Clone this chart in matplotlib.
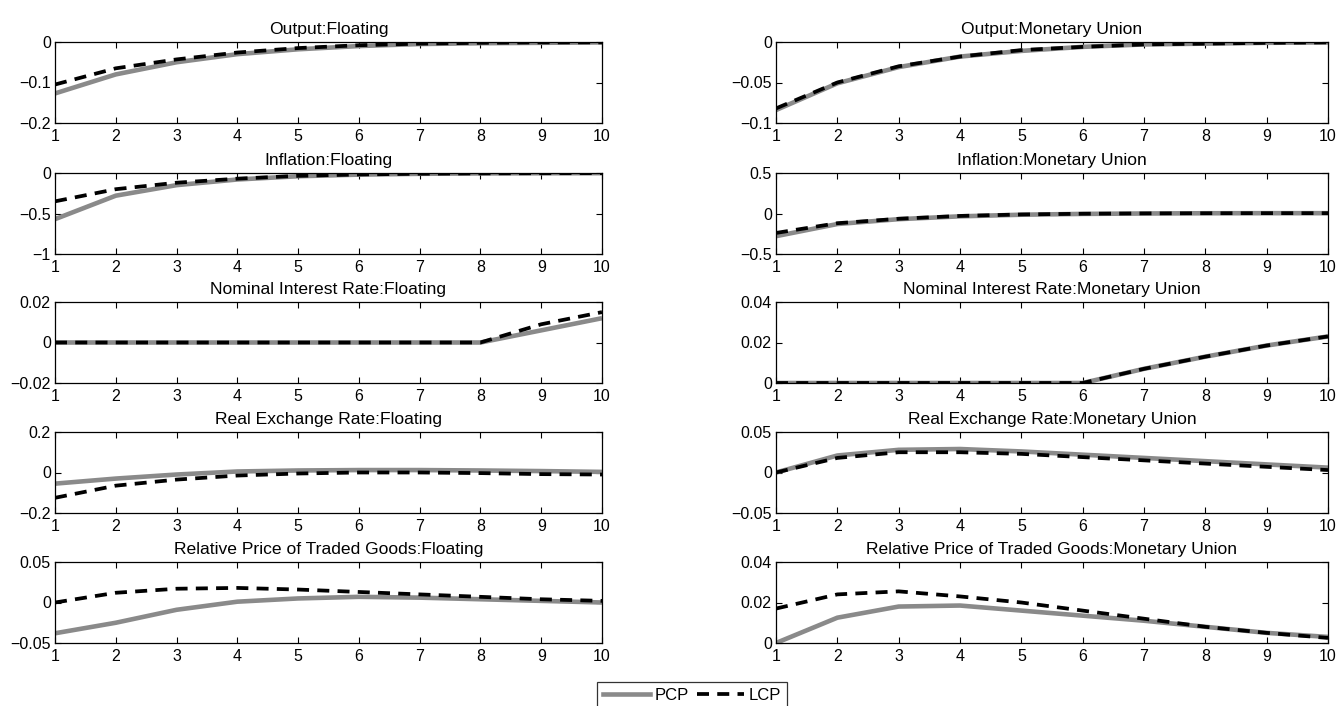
import matplotlib
matplotlib.use("Agg")
import matplotlib.pyplot as plt
from matplotlib.lines import Line2D

plt.rcParams['font.family'] = ['Liberation Sans', 'DejaVu Sans']

periods = [1, 2, 3, 4, 5, 6, 7, 8, 9, 10]

titles = [
    "Output:Floating", "Output:Monetary Union",
    "Inflation:Floating", "Inflation:Monetary Union",
    "Nominal Interest Rate:Floating", "Nominal Interest Rate:Monetary Union",
    "Real Exchange Rate:Floating", "Real Exchange Rate:Monetary Union",
    "Relative Price of Traded Goods:Floating", "Relative Price of Traded Goods:Monetary Union",
]

output_float_pcp = [-0.127, -0.080, -0.050, -0.030, -0.018, -0.010, -0.005, -0.003, -0.002, -0.001]
output_float_lcp = [-0.105, -0.065, -0.043, -0.026, -0.015, -0.008, -0.004, -0.002, -0.001, -0.001]
output_mu_pcp = [-0.084, -0.051, -0.031, -0.018, -0.011, -0.006, -0.003, -0.002, -0.001, -0.0005]
output_mu_lcp = [-0.082, -0.050, -0.030, -0.018, -0.010, -0.006, -0.003, -0.002, -0.001, -0.0005]

infl_float_pcp = [-0.57, -0.28, -0.15, -0.08, -0.04, -0.02, -0.01, -0.005, -0.003, -0.002]
infl_float_lcp = [-0.35, -0.20, -0.12, -0.07, -0.035, -0.018, -0.009, -0.005, -0.003, -0.002]
infl_mu_pcp = [-0.28, -0.13, -0.07, -0.035, -0.015, -0.005, 0.0, 0.003, 0.004, 0.004]
infl_mu_lcp = [-0.24, -0.12, -0.065, -0.030, -0.012, -0.003, 0.001, 0.003, 0.004, 0.004]

rate_float_pcp = [0, 0, 0, 0, 0, 0, 0, 0, 0.006, 0.012]
rate_float_lcp = [0, 0, 0, 0, 0, 0, 0, 0, 0.009, 0.015]
rate_mu_pcp = [0, 0, 0, 0, 0, 0, 0.007, 0.013, 0.0185, 0.023]
rate_mu_lcp = [0, 0, 0, 0, 0, 0, 0.007, 0.013, 0.0185, 0.023]

rer_float_pcp = [-0.055, -0.030, -0.010, 0.005, 0.010, 0.012, 0.012, 0.010, 0.007, 0.003]
rer_float_lcp = [-0.125, -0.065, -0.035, -0.015, -0.005, 0.0, 0.0, -0.003, -0.008, -0.010]
rer_mu_pcp = [0.0, 0.021, 0.028, 0.029, 0.026, 0.022, 0.018, 0.014, 0.010, 0.006]
rer_mu_lcp = [0.0, 0.018, 0.025, 0.025, 0.023, 0.019, 0.015, 0.011, 0.007, 0.003]

rptg_float_pcp = [-0.038, -0.025, -0.009, 0.001, 0.005, 0.007, 0.006, 0.004, 0.002, 0.0]
rptg_float_lcp = [0.0, 0.012, 0.017, 0.018, 0.016, 0.013, 0.010, 0.007, 0.004, 0.002]
rptg_mu_pcp = [0.0, 0.0125, 0.018, 0.0185, 0.016, 0.0135, 0.011, 0.008, 0.005, 0.003]
rptg_mu_lcp = [0.017, 0.024, 0.0255, 0.023, 0.020, 0.016, 0.012, 0.008, 0.005, 0.0025]

pcp_series = [output_float_pcp, output_mu_pcp, infl_float_pcp, infl_mu_pcp,
              rate_float_pcp, rate_mu_pcp, rer_float_pcp, rer_mu_pcp,
              rptg_float_pcp, rptg_mu_pcp]
lcp_series = [output_float_lcp, output_mu_lcp, infl_float_lcp, infl_mu_lcp,
              rate_float_lcp, rate_mu_lcp, rer_float_lcp, rer_mu_lcp,
              rptg_float_lcp, rptg_mu_lcp]

ylims = [(-0.2, 0), (-0.1, 0), (-1, 0), (-0.5, 0.5), (-0.02, 0.02), (0, 0.04),
         (-0.2, 0.2), (-0.05, 0.05), (-0.05, 0.05), (0, 0.04)]
yticks = [[-0.2, -0.1, 0], [-0.1, -0.05, 0], [-1, -0.5, 0], [-0.5, 0, 0.5],
          [-0.02, 0, 0.02], [0, 0.02, 0.04], [-0.2, 0, 0.2], [-0.05, 0, 0.05],
          [-0.05, 0, 0.05], [0, 0.02, 0.04]]
yticklabels = [["\u22120.2", "\u22120.1", "0"], ["\u22120.1", "\u22120.05", "0"],
               ["\u22121", "\u22120.5", "0"], ["\u22120.5", "0", "0.5"],
               ["\u22120.02", "0", "0.02"], ["0", "0.02", "0.04"],
               ["\u22120.2", "0", "0.2"], ["\u22120.05", "0", "0.05"],
               ["\u22120.05", "0", "0.05"], ["0", "0.02", "0.04"]]

fig = plt.figure(figsize=(13.37, 7.06), dpi=100)
W, H = 1337, 706
lefts = [55, 776]
widths = [547, 552]
tops = [42, 173, 302, 432, 562]
ah = 81

pcp_color = "#8a8a8a"
for i in range(10):
    r, c = divmod(i, 2)
    ax = fig.add_axes([lefts[c] / W, 1 - (tops[r] + ah) / H, widths[c] / W, ah / H])
    ax.plot(periods, pcp_series[i], color=pcp_color, lw=3.3, solid_capstyle='butt')
    ax.plot(periods, lcp_series[i], color='black', lw=2.7, dashes=(3.2, 2.2))
    ax.set_xlim(1, 10)
    ax.set_ylim(*ylims[i])
    ax.set_xticks(periods)
    ax.set_yticks(yticks[i])
    ax.set_yticklabels(yticklabels[i])
    ax.tick_params(direction='in', top=True, right=True, labelsize=11.5, length=4,
                   width=0.8, pad=3)
    ax.tick_params(axis='x', pad=4)
    for sp in ax.spines.values():
        sp.set_linewidth(0.9)
    ax.set_title(titles[i], fontsize=12.6, pad=6)

handles = [Line2D([], [], color=pcp_color, lw=3.3),
           Line2D([], [], color='black', lw=2.7, dashes=(3.2, 2.2))]
leg = fig.legend(handles, ["PCP", "LCP"], loc='upper left',
                 bbox_to_anchor=(597 / W, 1 - 682 / H), ncol=2, fontsize=12,
                 frameon=True, fancybox=False, edgecolor='black',
                 handlelength=2.8, columnspacing=0.5, handletextpad=0.3,
                 borderpad=0.35, borderaxespad=0)
leg.get_frame().set_linewidth(0.9)

fig.savefig("out.png", dpi=100)
